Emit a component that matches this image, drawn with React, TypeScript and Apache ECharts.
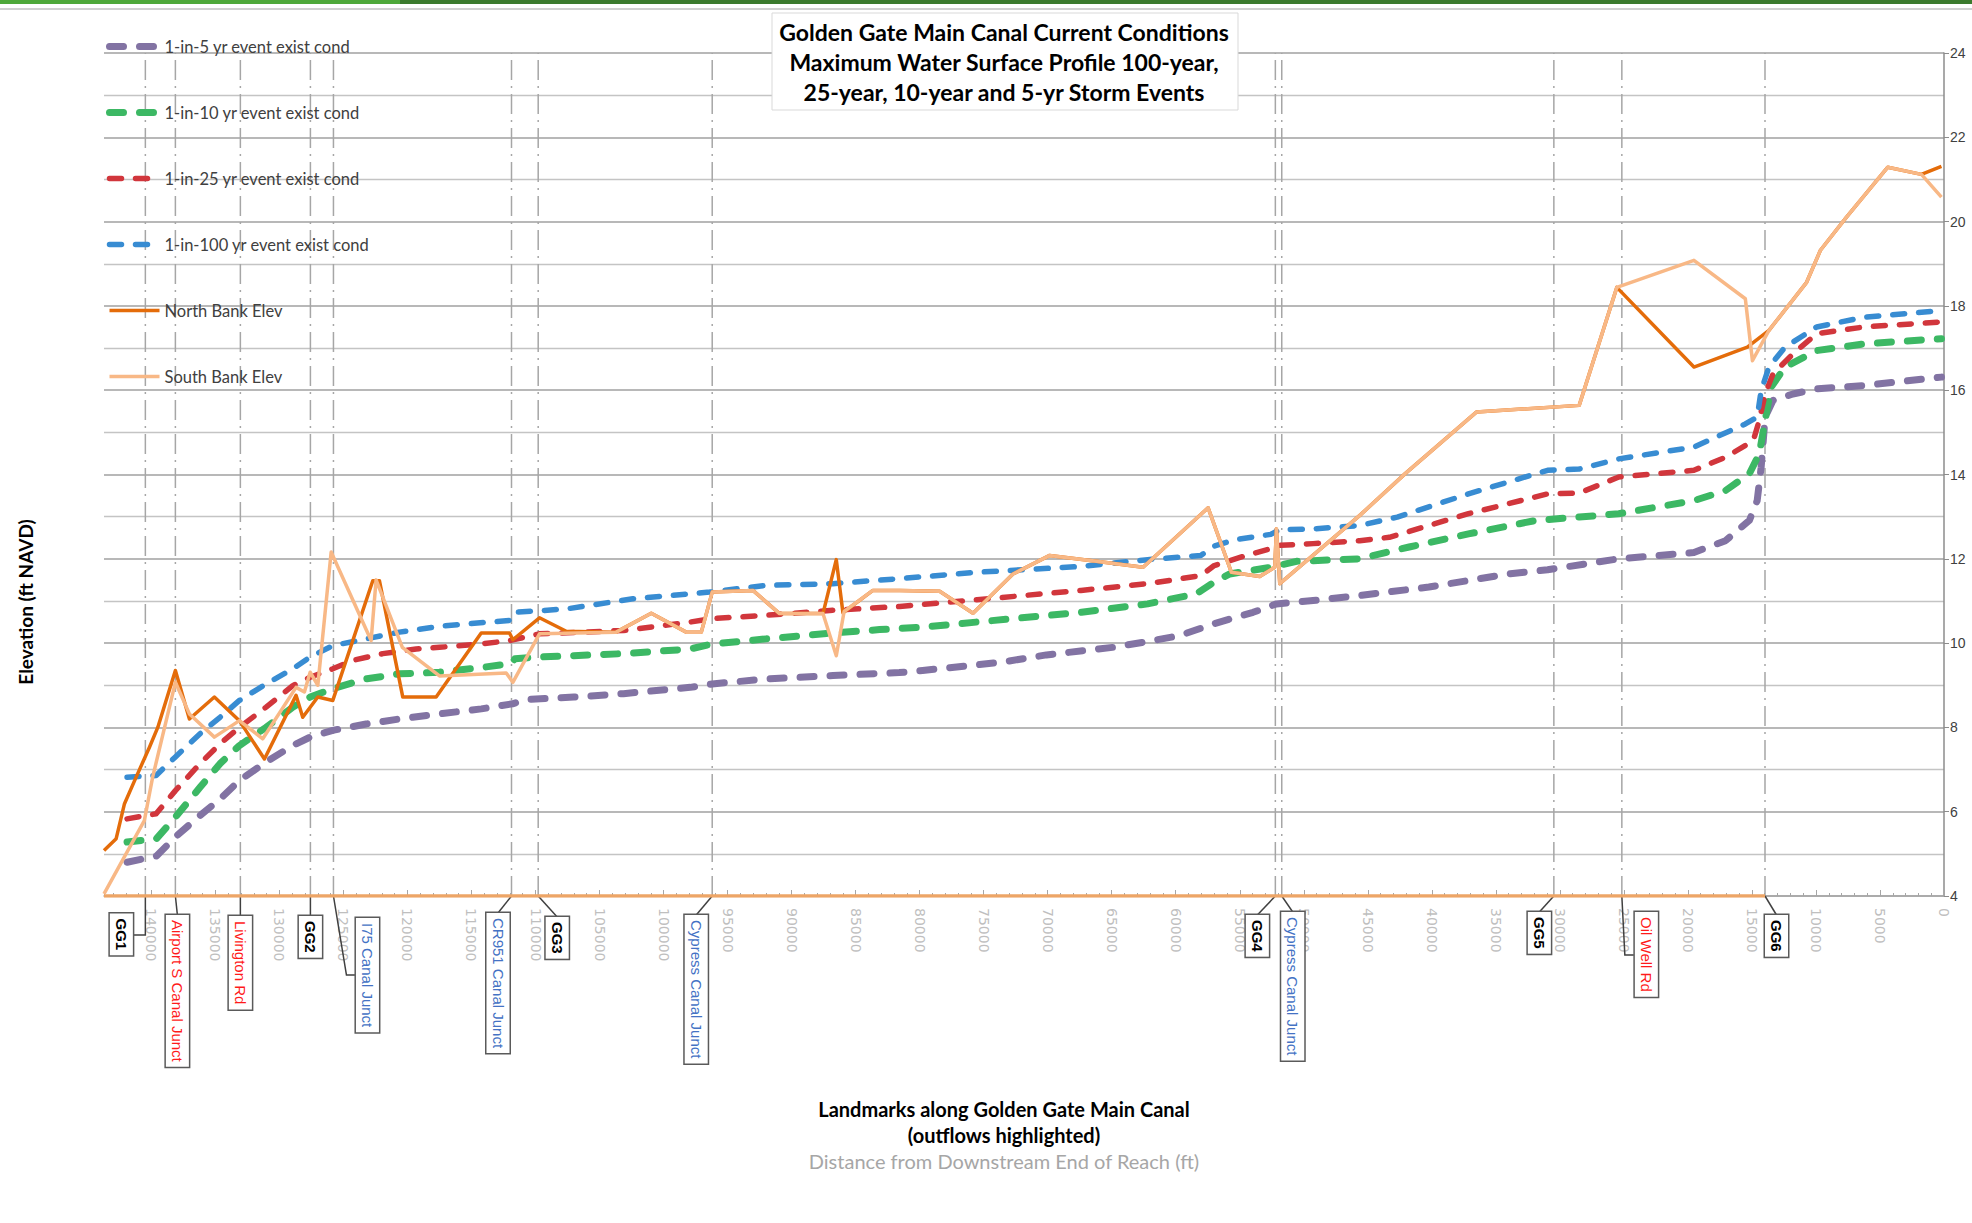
import React, { useEffect, useRef } from "react";
import * as echarts from "echarts";

// ---------- DATA ----------
const seriesNames = [
  "1-in-5 yr event exist cond",
  "1-in-10 yr event exist cond",
  "1-in-25 yr event exist cond",
  "1-in-100 yr event exist cond",
  "North Bank Elev",
  "South Bank Elev",
];

// [distance from downstream end (ft), elevation (ft NAVD)]
const wsel5yr: number[][] = [
  [141900, 4.8], [139600, 4.95], [138125, 5.4], [136200, 5.91], [134640, 6.3], [133125, 6.74],
  [131040, 7.18], [128960, 7.57], [127600, 7.77], [125830, 7.93], [123230, 8.08], [120625, 8.2],
  [117500, 8.32], [114230, 8.44], [111800, 8.56], [110730, 8.66], [107000, 8.72], [103125, 8.8],
  [97920, 8.95], [96200, 9.03], [91970, 9.15], [86770, 9.23], [81590, 9.3], [79770, 9.35],
  [73500, 9.55], [70100, 9.72], [64890, 9.9], [61770, 10.06], [59690, 10.18], [56995, 10.46],
  [53960, 10.73], [52135, 10.93], [49270, 11.01], [45625, 11.13], [40230, 11.33], [34050, 11.64],
  [30960, 11.74], [25400, 12.0], [19530, 12.15], [17060, 12.43], [15200, 12.91], [14590, 13.38],
  [14280, 14.17], [13970, 15.36], [13350, 15.76], [11800, 15.91], [9950, 16.03], [6250, 16.11],
  [200, 16.31],
];

const wsel10yr: number[][] = [
  [141900, 5.28], [139600, 5.36], [138125, 5.87], [136200, 6.58], [134640, 7.14], [133125, 7.57],
  [131040, 8.0], [128960, 8.48], [127600, 8.72], [125830, 8.92], [123230, 9.15], [120625, 9.27],
  [117500, 9.31], [114200, 9.42], [111900, 9.52], [111600, 9.63], [109690, 9.67], [103125, 9.75],
  [97920, 9.86], [96200, 9.98], [91970, 10.1], [86770, 10.24], [83125, 10.32], [79770, 10.38],
  [75520, 10.5], [67400, 10.73], [62190, 10.93], [58385, 11.17], [56995, 11.45], [55780, 11.64],
  [52580, 11.8], [50570, 11.94], [45625, 12.0], [41770, 12.28], [37140, 12.59], [31890, 12.91],
  [28490, 12.99], [25400, 13.07], [19530, 13.38], [17060, 13.62], [15200, 14.02], [14430, 14.49],
  [13970, 15.28], [13510, 16.07], [12420, 16.55], [9950, 16.94], [6250, 17.1], [200, 17.22],
];

const wsel25yr: number[][] = [
  [141900, 5.83], [139630, 5.95], [138125, 6.5], [136200, 7.14], [134640, 7.61], [133125, 8.0],
  [131040, 8.48], [128960, 8.99], [127600, 9.19], [125830, 9.39], [124270, 9.59], [121930, 9.75],
  [119320, 9.86], [117500, 9.9], [114230, 9.98], [112000, 10.06], [109700, 10.22], [103125, 10.3],
  [97920, 10.5], [96200, 10.58], [91970, 10.66], [86770, 10.78], [81560, 10.87], [75520, 11.03],
  [67400, 11.25], [62190, 11.41], [58040, 11.6], [56995, 11.84], [54480, 12.08], [52580, 12.24],
  [51875, 12.32], [49270, 12.36], [45625, 12.43], [43320, 12.51], [37140, 13.07], [30960, 13.54],
  [28490, 13.56], [25400, 13.94], [19530, 14.1], [17060, 14.41], [14900, 14.8], [14430, 15.28],
  [13970, 15.91], [13350, 16.39], [11800, 16.86], [9950, 17.34], [6250, 17.5], [200, 17.62],
];

const wsel100yr: number[][] = [
  [141900, 6.82], [139630, 6.86], [138125, 7.3], [136200, 7.85], [134640, 8.24], [133125, 8.64],
  [131040, 9.03], [128960, 9.39], [127600, 9.67], [125830, 9.94], [123230, 10.1], [120625, 10.26],
  [117500, 10.4], [112000, 10.54], [111650, 10.73], [107600, 10.81], [102400, 11.05], [96400, 11.21],
  [91970, 11.37], [86770, 11.41], [81560, 11.53], [75520, 11.68], [67400, 11.82], [62190, 11.98],
  [58040, 12.08], [56995, 12.3], [55440, 12.45], [52580, 12.58], [51875, 12.69], [49270, 12.71],
  [45625, 12.79], [42700, 12.99], [37140, 13.54], [30960, 14.1], [28490, 14.13], [25400, 14.37],
  [19530, 14.65], [15515, 15.2], [14590, 15.36], [14280, 15.99], [13670, 16.55], [12420, 17.02],
  [9950, 17.5], [6250, 17.73], [200, 17.89],
];

const northBank: number[][] = [
  [143700, 5.08], [142750, 5.36], [142100, 6.19], [141190, 6.82], [140150, 7.53], [139500, 8.0],
  [138125, 9.35], [137030, 8.2], [135080, 8.72], [133125, 8.16], [131170, 7.25], [128700, 8.76],
  [128180, 8.24], [127000, 8.72], [125830, 8.64], [122710, 11.48], [122190, 11.48], [120365, 8.72],
  [117760, 8.72], [114240, 10.24], [112030, 10.24], [111770, 10.08], [109690, 10.6], [107600, 10.28],
  [103700, 10.26], [100960, 10.71], [98230, 10.26], [97050, 10.26], [96200, 11.21], [93020, 11.25],
  [90940, 10.7], [87550, 10.7], [86510, 11.98], [85990, 10.72], [83650, 11.25], [81560, 11.25],
  [78440, 11.23], [75830, 10.71], [72710, 11.64], [69840, 12.08], [66200, 11.94], [62550, 11.8],
  [57470, 13.21], [55650, 11.68], [53440, 11.58], [52265, 11.8], [52135, 12.71], [51875, 11.41],
  [45625, 13.03], [42080, 14.02], [36520, 15.48], [28490, 15.64], [25550, 18.44], [19530, 16.55],
  [15360, 17.02], [13670, 17.42], [10730, 18.56], [9650, 19.32], [7630, 20.1], [4390, 21.29],
  [1765, 21.12], [200, 21.31],
];

const southBank: number[][] = [
  [143700, 4.05], [140550, 5.79], [139900, 6.82], [138125, 9.07], [137030, 8.32], [135080, 7.77],
  [133125, 8.16], [131300, 7.73], [128700, 8.95], [128050, 8.84], [127600, 9.31], [127000, 9.0],
  [125960, 12.16], [122840, 10.06], [122450, 11.5], [120400, 9.9], [117500, 9.22], [112290, 9.29],
  [111770, 9.07], [109690, 10.22], [103700, 10.26], [100960, 10.71], [98230, 10.26], [97050, 10.26],
  [96200, 11.21], [93020, 11.25], [90940, 10.7], [87550, 10.7], [86510, 9.7], [85900, 10.75],
  [83650, 11.25], [81560, 11.25], [78440, 11.23], [75830, 10.71], [72710, 11.64], [69840, 12.08],
  [66200, 11.94], [62550, 11.8], [57470, 13.21], [55650, 11.68], [53440, 11.58], [52265, 11.8],
  [52135, 12.71], [51875, 11.41], [45625, 13.03], [42080, 14.02], [36520, 15.48], [28490, 15.64],
  [25550, 18.44], [19530, 19.08], [15515, 18.17], [14960, 16.7], [13670, 17.42], [10730, 18.56],
  [9650, 19.32], [7630, 20.1], [4390, 21.29], [1765, 21.12], [200, 20.58],
];

// orange landmark baseline along the bottom of the chart
const landmarkBaseline: number[][] = [[143700, 4], [13980, 4]];

const landmarkNames = [
  "GG1", "Airport S Canal Junct", "Livington Rd", "GG2", "I75 Canal Junct", "CR951 Canal Junct",
  "GG3", "Cypress Canal Junct", "GG4", "Cypress Canal Junct", "GG5", "Oil Well Rd", "GG6",
];
const landmarkDistances = [140470, 138125, 133050, 127580, 125780, 111875, 109790, 96200, 52220, 51720, 30470, 25160, 13980];
const landmarkKinds = ["gauge", "outflow", "outflow", "gauge", "junction", "junction", "gauge", "junction", "gauge", "junction", "gauge", "outflow", "gauge"];

// ---------- LAYOUT / STYLE (annotation placement, not data) ----------
const landmarkLabelLayout = [
  { dx: -24, top: 17.5, leader: [[0, 0], [0, 39], [-11.5, 39]] },
  { dx: 2, top: 19, leader: [[0, 0], [2, 19]] },
  { dx: 0, top: 20, leader: [[0, 0], [0, 20]] },
  { dx: 0, top: 20, leader: [[0, 0], [0, 20]] },
  { dx: 34, top: 22, leader: [[0, 0], [13, 79], [21.5, 79]] },
  { dx: -13.5, top: 17, leader: [[0, 0], [-13.5, 17]] },
  { dx: 19, top: 21, leader: [[0, 0], [19, 21]] },
  { dx: -16, top: 19, leader: [[0, 0], [-16, 19]] },
  { dx: -18, top: 19, leader: [[0, 0], [-18, 19]] },
  { dx: 11, top: 16, leader: [[0, 0], [11, 16]] },
  { dx: -14.5, top: 16, leader: [[0, 0], [-14.5, 16]] },
  { dx: 24.5, top: 16, leader: [[0, 0], [3, 59], [12, 59]] },
  { dx: 11.5, top: 19, leader: [[0, 0], [11.5, 19]] },
];
const kindColors: Record<string, string> = { gauge: "#000000", outflow: "#ff1a1a", junction: "#4472c4" };

const X_MIN = 0;
const X_MAX = 143700;
const Y_MIN = 4;
const Y_MAX = 24;

function dashed(name: string, data: number[][], color: string, width: number, dash: number[], z: number) {
  return {
    name,
    type: "line",
    data,
    symbol: "none",
    showSymbol: false,
    z,
    lineStyle: { color, width, type: dash, cap: "round", join: "round" },
    itemStyle: { color },
    emphasis: { disabled: true },
  };
}

function solid(name: string, data: number[][], color: string, width: number, z: number) {
  return {
    name,
    type: "line",
    data,
    symbol: "none",
    showSymbol: false,
    z,
    lineStyle: { color, width, join: "round" },
    itemStyle: { color },
    emphasis: { disabled: true },
  };
}

const FONT = "Lato, 'Open Sans', sans-serif";

function buildOption() {
  return {
    animation: false,
    backgroundColor: "#ffffff",
    grid: { left: 104, right: 28, top: 53, bottom: 327, containLabel: false, outerBoundsMode: "none" },
    legend: {
      data: seriesNames,
      orient: "vertical",
      left: 101,
      top: 33,
      itemWidth: 50,
      itemHeight: 14,
      itemGap: 49,
      textStyle: { fontSize: 16.5, fontFamily: FONT, color: "#404040" },
      itemStyle: { color: "rgba(0,0,0,0)", opacity: 0, borderWidth: 0 },
      lineStyle: { width: "inherit" },
      selectedMode: false,
    },
    xAxis: {
      type: "value",
      inverse: true,
      min: X_MIN,
      max: X_MAX,
      interval: 5000,
      axisLine: { show: true, onZero: false, lineStyle: { color: "#a6a6a6", width: 1.5 } },
      axisTick: { show: true, inside: true, length: 6, lineStyle: { color: "#a6a6a6", width: 1 } },
      minorTick: { show: true, splitNumber: 5, length: 3, lineStyle: { color: "#a6a6a6", width: 1 } },
      axisLabel: {
        rotate: -90,
        margin: 12,
        fontSize: 14,
        color: "#bfbfbf",
        fontFamily: "'DejaVu Sans', sans-serif",
        showMaxLabel: false,
        showMinLabel: true,
        formatter: (v: number) => String(v),
      },
      splitLine: { show: false },
    },
    yAxis: {
      type: "value",
      position: "right",
      min: Y_MIN,
      max: Y_MAX,
      interval: 2,
      axisLine: { show: true, lineStyle: { color: "#8c8c8c", width: 1.5 } },
      axisTick: { show: true, length: 5, lineStyle: { color: "#8c8c8c" } },
      axisLabel: { margin: 6, fontSize: 14, color: "#404040", fontFamily: "'Liberation Sans', sans-serif" },
      splitLine: { show: true, lineStyle: { color: "#a0a0a0", width: 1.6 } },
      minorTick: { show: false, splitNumber: 2 },
      minorSplitLine: { show: true, lineStyle: { color: "#c4c4c4", width: 1.3 } },
    },
    series: [
      {
        type: "custom",
        name: "landmarks",
        data: landmarkDistances.map((d) => [d, Y_MIN]),
        clip: false,
        silent: true,
        z: 1,
        renderItem: (params: any, api: any) => {
          const i = params.dataIndex;
          const d = api.value(0);
          const base = api.coord([d, Y_MIN]);
          const top = api.coord([d, Y_MAX]);
          const L = landmarkLabelLayout[i];
          const kind = landmarkKinds[i];
          return {
            type: "group",
            children: [
              {
                type: "line",
                shape: { x1: base[0], y1: base[1], x2: top[0], y2: top[1] },
                style: { stroke: "#a6a6a6", lineWidth: 1.5, lineDash: [20, 6, 2, 6] },
              },
              {
                type: "polyline",
                shape: { points: L.leader.map((p) => [base[0] + p[0], base[1] + p[1]]) },
                style: { stroke: "#404040", lineWidth: 1.5, fill: "none" },
              },
              {
                type: "text",
                x: base[0] + L.dx,
                y: base[1] + L.top,
                rotation: -Math.PI / 2,
                style: {
                  text: landmarkNames[i],
                  fill: kindColors[kind],
                  fontSize: 15,
                  fontFamily: "'Liberation Sans', Arial, sans-serif",
                  fontWeight: kind === "gauge" ? "bold" : "normal",
                  align: "left",
                  verticalAlign: "middle",
                  backgroundColor: "#ffffff",
                  borderColor: "#5a5a5a",
                  borderWidth: 1.5,
                  padding: [4, 5],
                },
              },
            ],
          };
        },
      },
      solid("landmark baseline", landmarkBaseline, "#eda566", 3.5, 2),
      dashed(seriesNames[0], wsel5yr, "#8273a3", 7, [14, 16], 3),
      dashed(seriesNames[1], wsel10yr, "#3cb864", 7, [14, 16], 4),
      dashed(seriesNames[2], wsel25yr, "#d1363c", 5.5, [12, 14], 5),
      dashed(seriesNames[3], wsel100yr, "#388cd2", 5.5, [12, 14], 6),
      solid(seriesNames[4], northBank, "#e46c0a", 3.5, 7),
      solid(seriesNames[5], southBank, "#f8b886", 3.5, 8),
    ],
    graphic: [
      { type: "rect", z: 100, shape: { x: 0, y: 0, width: 400, height: 4 }, style: { fill: "#4ea83a" } },
      { type: "rect", z: 100, shape: { x: 400, y: 0, width: 1572, height: 4 }, style: { fill: "#3b7a2d" } },
      { type: "rect", z: 100, shape: { x: 0, y: 8, width: 1972, height: 2 }, style: { fill: "#d0d0d0" } },
      {
        type: "rect",
        z: 100,
        shape: { x: 772, y: 13, width: 466, height: 97 },
        style: { fill: "#ffffff", stroke: "#d9d9d9", lineWidth: 1 },
      },
      ...[
        "Golden Gate Main Canal Current Conditions",
        "Maximum Water Surface Profile 100-year,",
        "25-year, 10-year and 5-yr Storm Events",
      ].map((t, k) => ({
        type: "text",
        z: 101,
        x: 1004,
        y: 32 + k * 30,
        style: {
          text: t,
          fill: "#000000",
          font: `bold 23px ${FONT}`,
          align: "center",
          verticalAlign: "middle",
          textAlign: "center",
          textVerticalAlign: "middle",
        },
      })),
      {
        type: "text",
        z: 101,
        x: 25,
        y: 602,
        rotation: Math.PI / 2,
        style: {
          text: "Elevation (ft NAVD)",
          fill: "#000000",
          font: `bold 19px ${FONT}`,
          align: "center",
          verticalAlign: "middle",
          textAlign: "center",
          textVerticalAlign: "middle",
        },
      },
      ...[
        { t: "Landmarks along Golden Gate Main Canal", y: 1109, c: "#000000", w: "bold" },
        { t: "(outflows highlighted)", y: 1135, c: "#000000", w: "bold" },
        { t: "Distance from Downstream End of Reach (ft)", y: 1161, c: "#a6a6a6", w: "normal" },
      ].map((o) => ({
        type: "text",
        z: 101,
        x: 1004,
        y: o.y,
        style: {
          text: o.t,
          fill: o.c,
          font: `${o.w} 20px ${FONT}`,
          align: "center",
          verticalAlign: "middle",
          textAlign: "center",
          textVerticalAlign: "middle",
        },
      })),
    ],
  };
}

export default function App() {
  const ref = useRef<HTMLDivElement>(null);
  useEffect(() => {
    document.body.style.margin = "0";
    const chart = echarts.init(ref.current as HTMLDivElement, null, { renderer: "svg" });
    chart.setOption(buildOption() as any);
    return () => chart.dispose();
  }, []);
  return <div ref={ref} style={{ width: 1972, height: 1223, background: "#fff" }} />;
}
